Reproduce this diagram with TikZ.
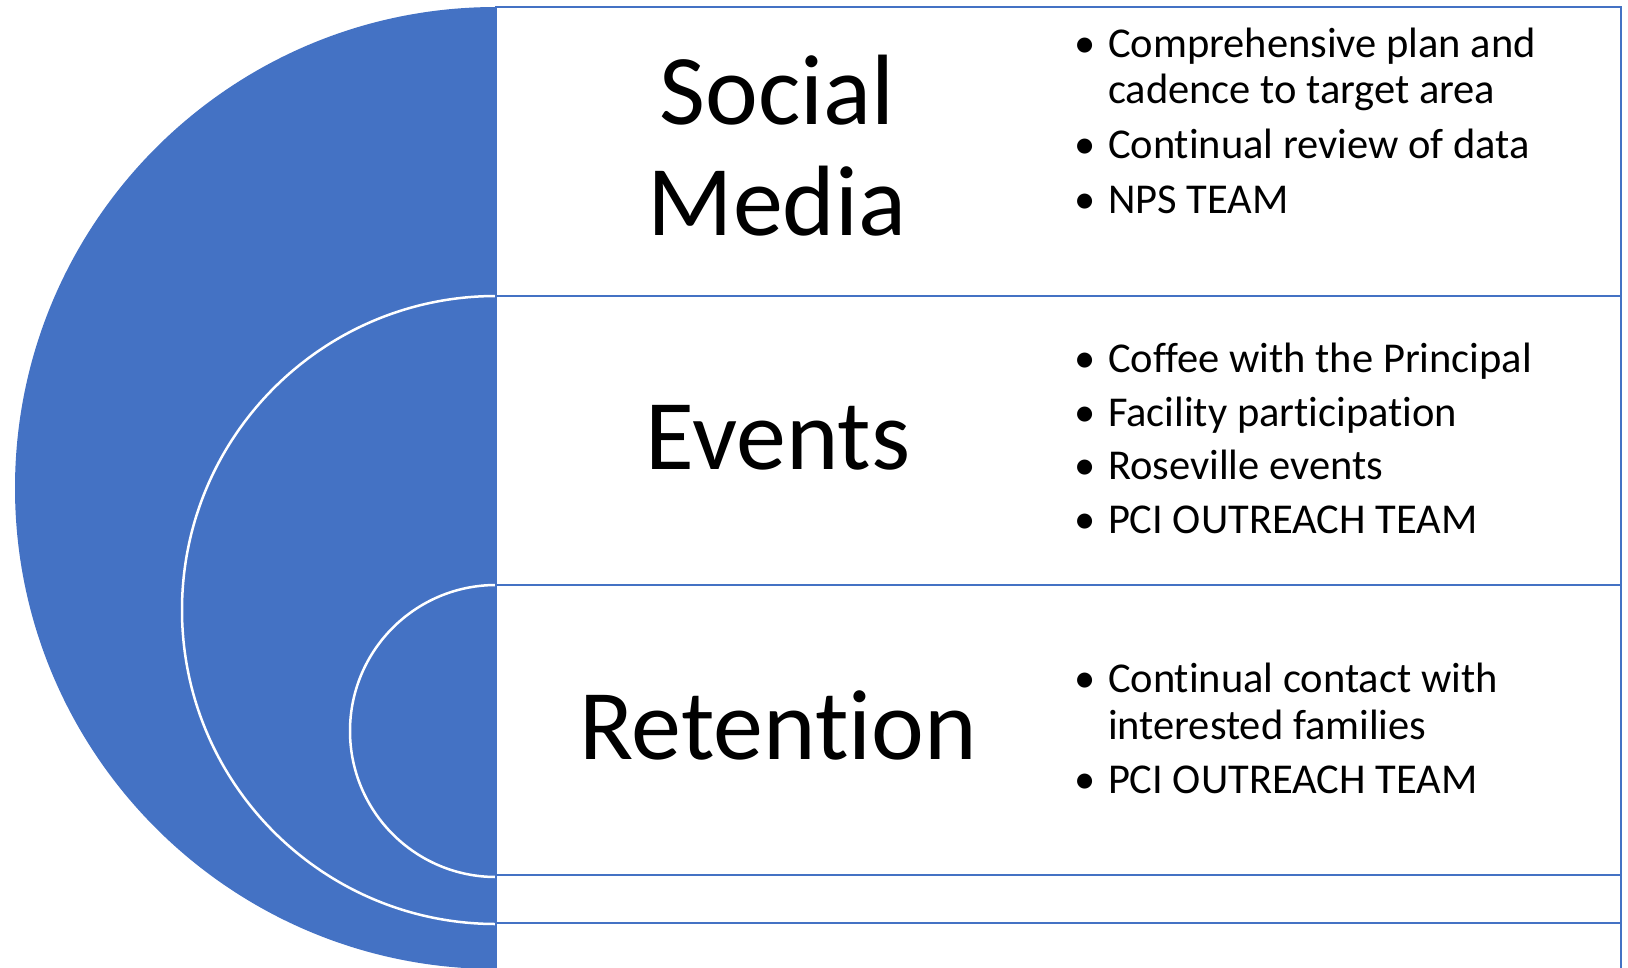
\documentclass[tikz,border=0pt]{standalone}
\usepackage{fontspec}
\setmainfont{Carlito}[Ligatures={NoCommon}]
\definecolor{accblue}{HTML}{4472C4}
\begin{document}
\begin{tikzpicture}[x=1pt,y=-1pt,
  rowbox/.style={draw=accblue, line width=2.5pt, fill=white, rectangle, inner sep=0pt, outer sep=0pt, minimum width=1125pt},
  title/.style={font=\fontsize{100}{111}\selectfont, inner sep=0pt, outer sep=0pt, anchor=base},
  itemtext/.style={font=\fontsize{42.5}{47}\selectfont, inner sep=0pt, outer sep=0pt, anchor=base west},
  bulletmark/.style={font=\fontsize{42.5}{47}\selectfont, inner sep=0pt, outer sep=0pt, anchor=base west},
  ring/.style={draw=white, line width=2.5pt, fill=accblue},
]
\useasboundingbox (0,0) rectangle (1628,967);
% nested half circles
\begin{scope}
  \clip (0,0) rectangle (496,967);
  \fill[accblue] (496,488) circle (481);
  \path[ring] (496,610) circle (314);
  \path[ring] (496,731) circle (146);
\end{scope}
% rows
\node[rowbox, minimum height=289pt] (r1) at (1058.5,151.5) {};
\node[rowbox, minimum height=289pt] (r2) at (1058.5,440.5) {};
\node[rowbox, minimum height=290pt] (r3) at (1058.5,730) {};
\node[rowbox, minimum height=48pt] (r4) at (1058.5,899) {};
\node[rowbox, minimum height=80pt] (r5) at (1058.5,963) {};
% titles
\node[title] (t1a) at (777,124) {Social};
\node[title] (t1b) at (777,235) {Media};
\node[title] (t2) at (778,469) {Events};
\node[title] (t3) at (778,759) {Retention};
% bullets row 1
\node[bulletmark] (b11) at (1074,57) {•};
\node[itemtext] (i11) at (1108,57) {Comprehensive plan and};
\node[itemtext] (i11b) at (1108,103) {cadence to target area};
\node[bulletmark] (b12) at (1074,158) {•};
\node[itemtext] (i12) at (1108,158) {Continual review of data};
\node[bulletmark] (b13) at (1074,213) {•};
\node[itemtext] (i13) at (1108,213) {NPS TEAM};
% bullets row 2
\node[bulletmark] (b21) at (1074,372) {•};
\node[itemtext] (i21) at (1108,372) {Coffee with the Principal};
\node[bulletmark] (b22) at (1074,426) {•};
\node[itemtext] (i22) at (1108,426) {Facility participation};
\node[bulletmark] (b23) at (1074,479) {•};
\node[itemtext] (i23) at (1108,479) {Roseville events};
\node[bulletmark] (b24) at (1074,533) {•};
\node[itemtext] (i24) at (1108,533) {PCI OUTREACH TEAM};
% bullets row 3
\node[bulletmark] (b31) at (1074,692) {•};
\node[itemtext] (i31) at (1108,692) {Continual contact with};
\node[itemtext] (i31b) at (1108,739) {interested families};
\node[bulletmark] (b32) at (1074,793) {•};
\node[itemtext] (i32) at (1108,793) {PCI OUTREACH TEAM};
\end{tikzpicture}
\end{document}
